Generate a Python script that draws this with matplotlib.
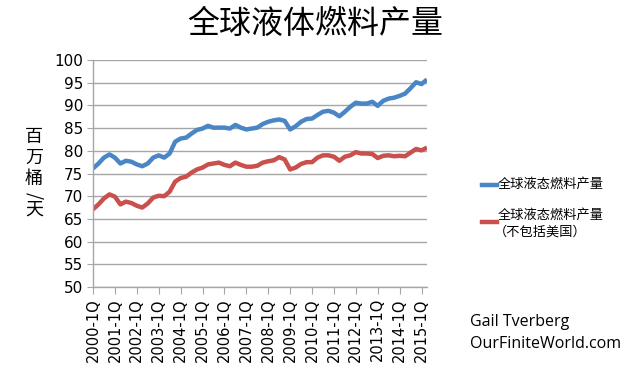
import matplotlib
matplotlib.use('Agg')
import matplotlib.pyplot as plt

plt.rcParams['font.family'] = ['Noto Sans CJK SC', 'DejaVu Sans']

# ---- Data (million barrels/day, quarterly 2000-1Q .. 2015-2Q) ----
years = list(range(2000, 2016))
quarters = [f'{y}-{q}Q' for y in years for q in range(1, 5)][:62]
tick_labels = [f'{y}-1Q' for y in years]

world_liquids = [
    76.1, 77.2, 78.5, 79.2, 78.5, 77.2, 77.8, 77.6, 77.0, 76.6,
    77.2, 78.5, 79.0, 78.5, 79.4, 82.0, 82.7, 82.9, 83.8, 84.6,
    84.9, 85.5, 85.1, 85.1, 85.1, 84.9, 85.7, 85.1, 84.7, 84.9,
    85.1, 85.9, 86.4, 86.7, 86.9, 86.6, 84.7, 85.4, 86.4, 87.0,
    87.1, 87.9, 88.6, 88.8, 88.4, 87.6, 88.6, 89.7, 90.6, 90.4,
    90.4, 90.8, 89.9, 91.0, 91.5, 91.7, 92.1, 92.6, 93.8, 95.1,
    94.7, 95.7,
]
world_ex_us = [
    67.1, 68.2, 69.5, 70.4, 69.9, 68.2, 68.8, 68.5, 67.9, 67.5,
    68.4, 69.7, 70.1, 70.0, 71.0, 73.2, 74.0, 74.3, 75.2, 75.9,
    76.3, 77.0, 77.2, 77.4, 76.9, 76.6, 77.4, 76.9, 76.5, 76.5,
    76.7, 77.4, 77.7, 77.9, 78.6, 78.1, 75.9, 76.3, 77.1, 77.5,
    77.5, 78.5, 79.0, 79.0, 78.7, 77.8, 78.7, 79.0, 79.7, 79.4,
    79.4, 79.3, 78.4, 78.9, 79.0, 78.8, 78.9, 78.8, 79.6, 80.4,
    80.1, 80.7,
]

blue = '#4a86c6'
red = '#c9504d'
grid_c = '#a6a6a6'

fig = plt.figure(figsize=(6.4, 3.74), dpi=100)
ax = fig.add_axes([93 / 640, 1 - 287 / 374, 334 / 640, 227 / 374])

x = list(range(len(quarters)))
ax.plot(x, world_liquids, color=blue, lw=3.2, solid_capstyle='butt',
        label='全球液态燃料产量')
ax.plot(x, world_ex_us, color=red, lw=3.2, solid_capstyle='butt',
        label='全球液态燃料产量\n（不包括美国）')

ax.set_xlim(0, len(quarters) - 1)
ax.set_ylim(50, 100)
ax.set_yticks(range(50, 101, 5))
ax.set_xticks(range(0, 61, 4))
ax.set_xticklabels(tick_labels, rotation=90, fontsize=10.5,
                   family=['DejaVu Sans'])
ax.tick_params(axis='y', labelsize=11, length=4, color=grid_c, pad=3)
ax.tick_params(axis='x', length=5, color=grid_c, pad=3)
for lab in ax.get_yticklabels():
    lab.set_family(['DejaVu Sans'])

ax.grid(axis='y', color=grid_c, lw=1)
ax.set_axisbelow(True)
for s in ['top', 'right']:
    ax.spines[s].set_visible(False)
for s in ['left', 'bottom']:
    ax.spines[s].set_color(grid_c)
    ax.spines[s].set_linewidth(1)

fig.text(315 / 640, 1 - 24 / 374, '全球液体燃料产量', ha='center', va='center',
         fontsize=23)

# vertical (stacked) y-axis label, slash turned as in vertical text
ylabel_chars = ['百', '万', '桶', '/', '天']
ylabel_y = [137, 158, 179, 196, 210]
for ch, yy in zip(ylabel_chars, ylabel_y):
    fig.text(34 / 640, 1 - yy / 374, ch, ha='center', va='center',
             fontsize=13, rotation=-90 if ch == '/' else 0)

# legend drawn as lines + text in figure coords
fig.add_artist(plt.Line2D([482 / 640, 497 / 640], [1 - 185 / 374] * 2,
                          color=blue, lw=3.2))
fig.text(498 / 640, 1 - 184 / 374, '全球液态燃料产量', va='center', fontsize=9.5)
fig.add_artist(plt.Line2D([482 / 640, 497 / 640], [1 - 222 / 374] * 2,
                          color=red, lw=3.2))
fig.text(498 / 640, 1 - 215 / 374, '全球液态燃料产量', va='center', fontsize=9.5)
fig.text(494 / 640, 1 - 232 / 374, '（不包括美国）', va='center', fontsize=9.5)

fig.text(470 / 640, 1 - 322 / 374, 'Gail Tverberg', va='center',
         fontsize=11.5, family=['Open Sans'])
fig.text(470 / 640, 1 - 344 / 374, 'OurFiniteWorld.com', va='center',
         fontsize=11.5, family=['Open Sans'])

fig.savefig('out.png', dpi=100)
